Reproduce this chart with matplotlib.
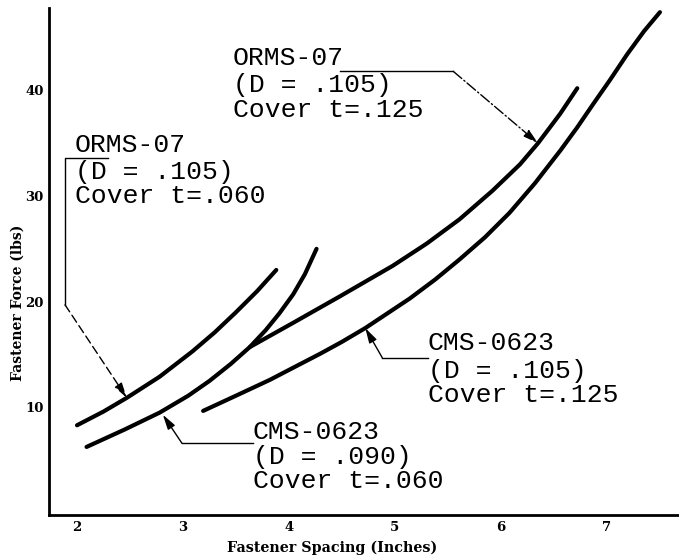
import matplotlib
matplotlib.use("Agg")
import matplotlib.pyplot as plt

# ---- data ----
orms_060_x = [2.00, 2.25, 2.47, 2.78, 3.09, 3.30, 3.50, 3.70, 3.88]
orms_060_y = [8.3, 9.6, 10.9, 12.9, 15.3, 17.1, 19.0, 21.0, 23.0]

cms_090_x = [2.09, 2.45, 2.78, 3.05, 3.25, 3.45, 3.63, 3.78, 3.91, 4.04, 4.15, 4.26]
cms_090_y = [6.25, 7.9, 9.5, 11.1, 12.5, 14.1, 15.7, 17.3, 18.9, 20.7, 22.6, 25.0]

orms_125_x = [3.63, 4.04, 4.48, 4.98, 5.30, 5.61, 5.92, 6.18, 6.35, 6.56, 6.72]
orms_125_y = [15.7, 18.0, 20.5, 23.4, 25.5, 27.8, 30.5, 33.0, 35.0, 37.8, 40.2]

cms_105_x = [3.19, 3.50, 3.82, 4.05, 4.30, 4.50, 4.72, 4.93, 5.14, 5.38, 5.61, 5.85,
             6.08, 6.32, 6.56, 6.72, 6.87, 7.03, 7.19, 7.35, 7.50]
cms_105_y = [9.66, 11.1, 12.6, 13.8, 15.1, 16.2, 17.5, 18.9, 20.3, 22.1, 24.0, 26.1,
             28.4, 31.2, 34.3, 36.5, 38.7, 41.0, 43.4, 45.6, 47.4]

x_ticks = [2, 3, 4, 5, 6, 7]
y_ticks = [10, 20, 30, 40]

labels = {
    "orms_060": ["ORMS-07", "(D = .105)", "Cover t=.060"],
    "orms_125": ["ORMS-07", "(D = .105)", "Cover t=.125"],
    "cms_090": ["CMS-0623", "(D = .090)", "Cover t=.060"],
    "cms_105": ["CMS-0623", "(D = .105)", "Cover t=.125"],
}

fig = plt.figure(figsize=(6.79, 5.60), dpi=100)
ax = fig.add_axes([0.0722, 0.0804, 0.9278, 0.9054])
ax.set_xlim(1.736, 7.68)
ax.set_ylim(-0.19, 47.8)

curve_kw = dict(color="black", lw=3.0, solid_capstyle="round", solid_joinstyle="round")
for xs, ys in [(orms_060_x, orms_060_y), (cms_090_x, cms_090_y),
               (orms_125_x, orms_125_y), (cms_105_x, cms_105_y)]:
    ax.plot(xs, ys, **curve_kw)

for s in ["top", "right"]:
    ax.spines[s].set_visible(False)
for s in ["left", "bottom"]:
    ax.spines[s].set_linewidth(2.0)
    ax.spines[s].set_color("black")

ax.set_xticks(x_ticks)
ax.set_yticks(y_ticks)
ax.set_xticklabels([str(v) for v in x_ticks])
ax.set_yticklabels([str(v) for v in y_ticks])
ax.tick_params(axis="both", length=0, labelsize=9.5, pad=4)
for t in ax.get_xticklabels() + ax.get_yticklabels():
    t.set_fontweight("bold")
    t.set_fontfamily("DejaVu Serif")

fig.text(332 / 679, 1 - 548 / 560, "Fastener Spacing (Inches)", ha="center", va="center",
         fontsize=10.3, fontweight="bold", family="DejaVu Serif")
fig.text(18 / 679, 1 - 303 / 560, "Fastener Force (lbs)", ha="center", va="center",
         rotation=90, fontsize=10, fontweight="bold", family="DejaVu Serif")

mono = dict(family="Liberation Mono", fontsize=19, color="black", va="baseline", ha="left")


def block(x, ys, lines):
    for y, s in zip(ys, lines):
        ax.text(x, y, s, **mono)


block(1.98, [34.2, 31.6, 29.3], labels["orms_060"])
block(3.47, [42.4, 39.8, 37.5], labels["orms_125"])
block(3.66, [7.0, 4.6, 2.4], labels["cms_090"])
block(5.31, [15.4, 12.8, 10.5], labels["cms_105"])

lk = dict(color="black", lw=1.0)
head = "-|>,head_length=0.9,head_width=0.25"
# leader 1
ax.plot([2.29, 1.887, 1.887], [33.6, 33.6, 19.7], **lk)
ax.annotate("", xy=(2.47, 10.9), xytext=(1.887, 19.7),
            arrowprops=dict(arrowstyle=head, color="black",
                            lw=1.0, linestyle=(0, (6, 3)), shrinkA=0, shrinkB=0))
# leader 2
ax.plot([4.48, 5.55], [41.8, 41.8], **lk)
ax.annotate("", xy=(6.35, 35.0), xytext=(5.55, 41.8),
            arrowprops=dict(arrowstyle=head, color="black",
                            lw=1.0, linestyle=(0, (8, 2, 1, 2)), shrinkA=0, shrinkB=0))
# leader 3
ax.plot([3.66, 2.99], [6.6, 6.6], **lk)
ax.annotate("", xy=(2.81, 9.3), xytext=(2.99, 6.6),
            arrowprops=dict(arrowstyle=head, color="black",
                            lw=1.0, shrinkA=0, shrinkB=0))
# leader 4
ax.plot([5.31, 4.88], [14.7, 14.7], **lk)
ax.annotate("", xy=(4.72, 17.5), xytext=(4.88, 14.7),
            arrowprops=dict(arrowstyle=head, color="black",
                            lw=1.0, shrinkA=0, shrinkB=0))

fig.savefig("out.png", dpi=100)
